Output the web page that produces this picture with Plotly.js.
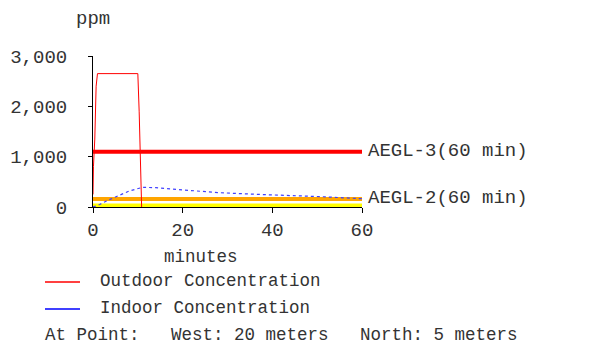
<!DOCTYPE html>
<html>
<head>
<meta charset="utf-8">
<script src="https://cdn.plot.ly/plotly-3.0.1.min.js"></script>
<style>html,body{margin:0;padding:0;background:#fff}#chart{width:603px;height:346px}</style>
</head>
<body>
<div id="chart"></div>
<script>
// Data (minutes, ppm)
const outdoorT = [0, 0.1, 0.4, 0.7, 1.0, 10.0, 10.3, 10.5, 10.7, 10.85];
const outdoorV = [250, 800, 1350, 2400, 2650, 2650, 1890, 1330, 800, 0];
const indoorT = [0, 1.5, 3, 5, 8, 11, 14, 20, 28, 37, 45, 51, 60];
const indoorV = [0, 50, 120, 200, 315, 390, 385, 340, 285, 250, 232, 205, 165];
const aeglNames = ["AEGL-3(60 min)", "AEGL-2(60 min)", "AEGL-1(60 min)"];
const aeglValues = [1100, 160, 30];
const aeglColors = ["#ff0000", "#ffa500", "#ffff00"];
const xTicks = [0, 20, 40, 60];
const yTicks = [0, 1000, 2000, 3000];
const legendNames = ["Outdoor Concentration", "Indoor Concentration"];
const legendColors = ["#ff0000", "#0000ff"];
const pointText = "At Point:   West: 20 meters   North: 5 meters";

const FONT = '"Liberation Mono", "Courier New", monospace';
const TXT = '#333333';
// plot area in pixels
const L = 93, R = 362, T = 56, B = 207;
const px = x => (x - L) / (R - L);
const py = y => (B - y) / (B - T);

const traces = [];
aeglValues.forEach((v, i) => {
  traces.push({x: [0, 60], y: [v, v], mode: 'lines', line: {color: aeglColors[i], width: 4}, hoverinfo: 'skip', showlegend: false, cliponaxis: false});
});
traces.push({x: outdoorT, y: outdoorV, mode: 'lines', line: {color: '#ff0000', width: 1}, showlegend: false, cliponaxis: false});
traces.push({x: indoorT, y: indoorV, mode: 'lines', line: {color: '#4040ff', width: 1.2, dash: 'dot'}, showlegend: false, cliponaxis: false});

const annotations = [];
// AEGL labels (AEGL-1 label hidden like reference)
[0, 1].forEach(i => {
  annotations.push({xref: 'x', yref: 'y', x: 60, y: aeglValues[i], xanchor: 'left', yanchor: 'middle', xshift: 4, yshift: 1, text: aeglNames[i], showarrow: false, font: {family: FONT, size: 19, color: TXT}});
});
annotations.push({xref: 'paper', yref: 'paper', x: px(93), y: py(19), xanchor: 'center', yanchor: 'middle', text: 'ppm', showarrow: false, font: {family: FONT, size: 19, color: TXT}});
annotations.push({xref: 'paper', yref: 'paper', x: px(201), y: py(257), xanchor: 'center', yanchor: 'middle', text: 'minutes', showarrow: false, font: {family: FONT, size: 17.5, color: TXT}});
const legY = [281, 308];
legendNames.forEach((n, i) => {
  annotations.push({xref: 'paper', yref: 'paper', x: px(98), y: py(legY[i]), xanchor: 'left', yanchor: 'middle', text: n, showarrow: false, font: {family: FONT, size: 17.5, color: TXT}});
});
annotations.push({xref: 'paper', yref: 'paper', x: px(43), y: py(335), xanchor: 'left', yanchor: 'middle', text: pointText.replace(/ /g, '&nbsp;'), showarrow: false, font: {family: FONT, size: 17.5, color: TXT}});

const shapes = legendColors.map((c, i) => ({type: 'line', xref: 'paper', yref: 'paper', x0: px(45), x1: px(80), y0: py(legY[i] + 1), y1: py(legY[i] + 1), line: {color: c, width: 1.5}}));

const layout = {
  width: 603, height: 346,
  margin: {l: L, r: 603 - R, t: T, b: 346 - B, pad: 0},
  paper_bgcolor: '#ffffff', plot_bgcolor: '#ffffff',
  showlegend: false,
  font: {family: FONT, color: TXT},
  xaxis: {range: [0, 60], tickvals: xTicks, ticktext: xTicks.map(String), showgrid: false, zeroline: false, showline: true, linecolor: '#000', linewidth: 1, ticks: 'outside', ticklen: 5, tickcolor: '#000', tickfont: {family: FONT, size: 19, color: TXT}, ticklabelstandoff: 0, fixedrange: true},
  yaxis: {range: [0, 3000], tickvals: yTicks, ticktext: yTicks.map(v => v.toLocaleString('en-US')), showgrid: false, zeroline: false, showline: true, linecolor: '#000', linewidth: 1, ticks: 'outside', ticklen: 4, tickcolor: '#000', tickfont: {family: FONT, size: 19, color: TXT}, ticklabelstandoff: 17, fixedrange: true},
  annotations: annotations,
  shapes: shapes
};
Plotly.newPlot('chart', traces, layout, {displayModeBar: false, staticPlot: true});
</script>
</body>
</html>
